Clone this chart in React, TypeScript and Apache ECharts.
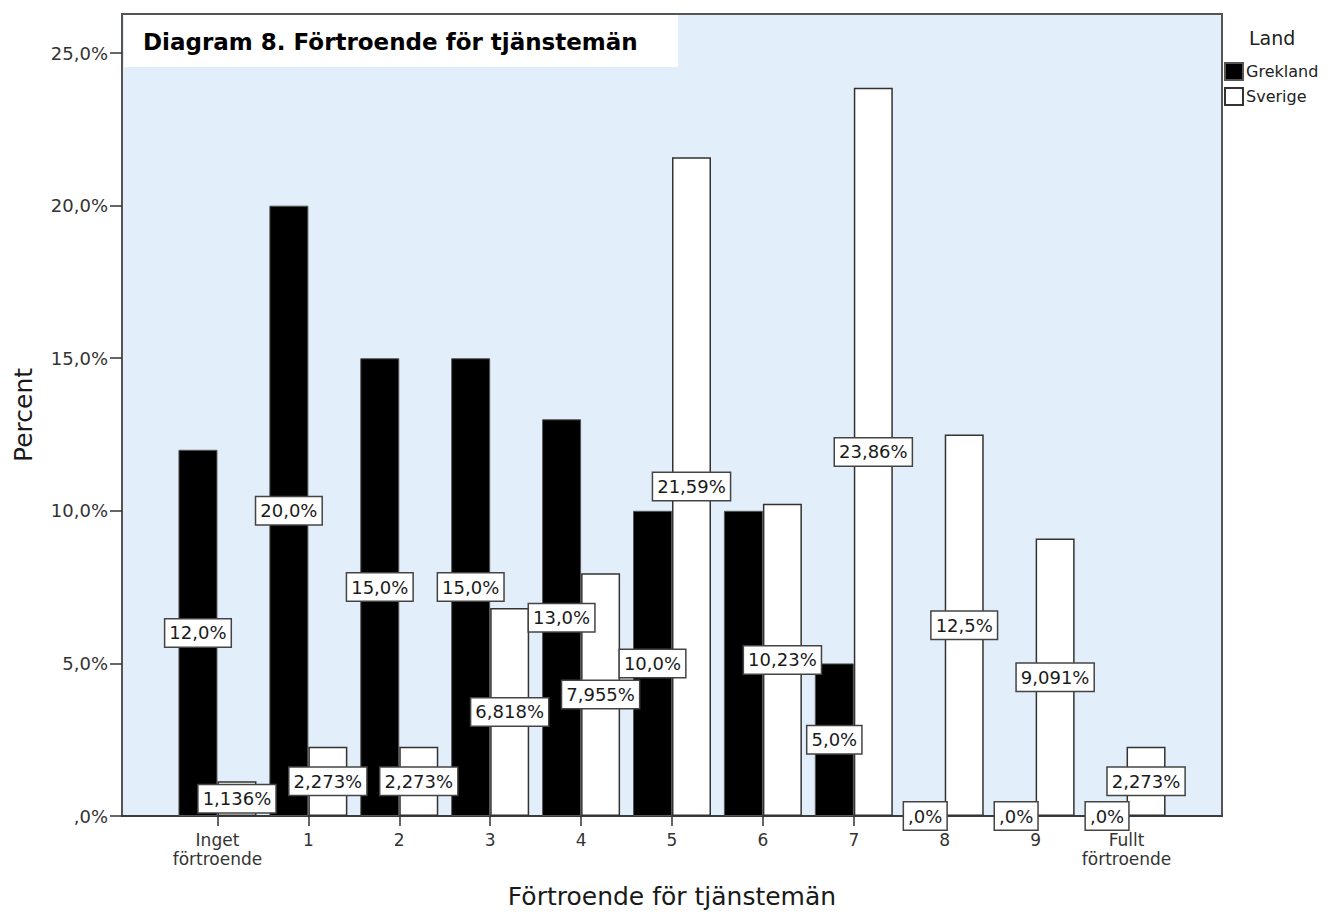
import React, { useEffect, useRef } from "react";
import * as echarts from "echarts";

const categories = ["Inget\nförtroende", "1", "2", "3", "4", "5", "6", "7", "8", "9", "Fullt\nförtroende"];
const grekland = [12.0, 20.0, 15.0, 15.0, 13.0, 10.0, 10.0, 5.0, 0, 0, 0];
const sverige = [1.136, 2.273, 2.273, 6.818, 7.955, 21.59, 10.23, 23.86, 12.5, 9.091, 2.273];
const yTicks = [0, 5, 10, 15, 20, 25];
const seriesNames = ["Grekland", "Sverige"];
const legendTitle = "Land";
const chartTitle = "Diagram 8. Förtroende för tjänstemän";
const xTitle = "Förtroende för tjänstemän";
const yTitle = "Percent";

const FONT = "DejaVu Sans";

function fmt(v: number): string {
  let s = String(v);
  if (!s.includes(".")) s += ".0";
  if (s.startsWith("0.")) s = s.slice(1);
  return s.replace(".", ",") + "%";
}

const xIdx = categories.map((_, i) => i);

export default function App() {
  const ref = useRef<HTMLDivElement>(null);
  useEffect(() => {
    if (!ref.current) return;
    const chart = echarts.init(ref.current, undefined, { renderer: "svg" });
    const labelCfg = {
      show: true,
      position: "inside",
      formatter: (p: any) => fmt(p.value[1]),
      color: "#1a1a1a",
      fontSize: 18,
      lineHeight: 18,
      fontFamily: FONT,
      backgroundColor: "#ffffff",
      borderColor: "#444",
      borderWidth: 1.5,
      padding: [5, 4, 4, 4],
    };
    chart.setOption({
      animation: false,
      textStyle: { fontFamily: FONT },
      grid: {
        left: 122,
        right: 115,
        top: 14,
        bottom: 98,
        show: true,
        backgroundColor: "#E2EEFA",
        borderColor: "#555",
        borderWidth: 2,
      },
      legend: {
        data: seriesNames,
        orient: "vertical",
        left: 1224,
        top: 62,
        itemWidth: 18,
        itemHeight: 17,
        itemGap: 6,
        icon: "rect",
        textStyle: { fontSize: 16, color: "#222", fontFamily: FONT, padding: [0, 0, 0, -2] },
        padding: 0,
        selectedMode: false,
      },
      xAxis: {
        type: "value",
        min: -1.05,
        max: 11.05,
        name: xTitle,
        nameLocation: "middle",
        nameGap: 68,
        nameTextStyle: { fontSize: 25, color: "#1a1a1a", fontFamily: FONT },
        axisLine: { show: true, onZero: false, lineStyle: { color: "#333", width: 1.5 } },
        axisTick: { show: true, length: 10, customValues: xIdx, lineStyle: { color: "#333", width: 1.5 } },
        axisLabel: {
          customValues: xIdx,
          formatter: (v: number) => categories[Math.round(v)] ?? "",
          fontSize: 17,
          lineHeight: 19,
          color: "#333",
          margin: 14,
          fontFamily: FONT,
        },
        splitLine: { show: false },
      },
      yAxis: {
        type: "value",
        min: 0,
        max: 26.28,
        name: yTitle,
        nameLocation: "middle",
        nameGap: 86,
        nameTextStyle: { fontSize: 25, color: "#1a1a1a", fontFamily: FONT },
        axisLine: { show: true, onZero: false, lineStyle: { color: "#555", width: 2 } },
        axisTick: { show: true, length: 12, customValues: yTicks, lineStyle: { color: "#333", width: 1.5 } },
        axisLabel: {
          customValues: yTicks,
          formatter: (v: number) => fmt(v),
          fontSize: 18,
          color: "#333",
          margin: 14,
          fontFamily: FONT,
        },
        splitLine: { show: false },
      },
      series: [
        {
          name: seriesNames[0],
          type: "bar",
          data: grekland.map((v, i) => [i, v]),
          barWidth: 39,
          barGap: "0%",
          itemStyle: { color: "#000000", borderColor: "#555", borderWidth: 1 },
          label: labelCfg,
          labelLayout: { hideOverlap: true },
        },
        {
          name: seriesNames[1],
          type: "bar",
          data: sverige.map((v, i) => [i, v]),
          barWidth: 39,
          barGap: "0%",
          itemStyle: { color: "#ffffff", borderColor: "#333", borderWidth: 1.5 },
          label: labelCfg,
          labelLayout: { hideOverlap: true },
        },
      ],
      graphic: [
        {
          type: "rect",
          shape: { x: 124, y: 15, width: 554, height: 52 },
          style: { fill: "#ffffff" },
          z: 10,
        },
        {
          type: "text",
          x: 143,
          y: 42,
          z: 11,
          style: {
            text: chartTitle,
            fontSize: 23,
            fontWeight: "bold",
            fontFamily: FONT,
            fill: "#000",
            verticalAlign: "middle",
          },
        },
        {
          type: "text",
          x: 1249,
          y: 38,
          style: {
            text: legendTitle,
            fontSize: 19,
            fontFamily: FONT,
            fill: "#222",
            verticalAlign: "middle",
          },
        },
      ],
    });
    return () => chart.dispose();
  }, []);
  return (
    <div
      ref={ref}
      style={{ position: "absolute", left: 0, top: 0, width: 1337, height: 914, background: "#fff" }}
    />
  );
}
